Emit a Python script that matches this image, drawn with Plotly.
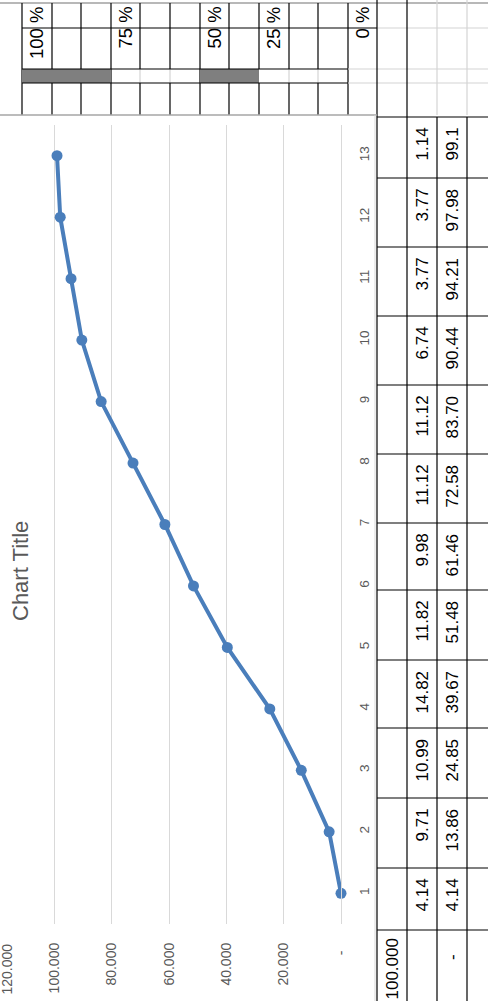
import plotly.graph_objects as go

# chart data (read from the rotated sheet)
categories = list(range(1, 14))
cumulative = [0, 4.14, 13.86, 24.85, 39.67, 51.48, 61.46, 72.58, 83.70, 90.44, 94.21, 97.98, 99.1]
each_text = ["4.14", "9.71", "10.99", "14.82", "11.82", "9.98", "11.12", "11.12", "6.74", "3.77", "3.77", "1.14"]
cum_text = ["4.14", "13.86", "24.85", "39.67", "51.48", "61.46", "72.58", "83.70", "90.44", "94.21", "97.98", "99.1"]
value_ticks = [0, 20, 40, 60, 80, 100]
value_ticktext = ["-\u00a0\u00a0", "20.000", "40.000", "60.000", "80.000", "100.000"]
pct_labels = ["100 %", "75 %", "50 %", "25 %", "0 %"]

W, H = 488, 1001
PLOT_W = 341
PLOT_TOP, PLOT_BOTTOM = 125, 924
PLOT_H = PLOT_BOTTOM - PLOT_TOP
BLUE = "#4A7EBB"
GREY_TXT = "#595959"
FONT = "Liberation Sans, Arial, sans-serif"


def px(x):
    return x / PLOT_W


def py(y):
    return (PLOT_BOTTOM - y) / PLOT_H


shapes = []
annotations = []


def hline(y, x0, x1, color="black", width=1.2):
    shapes.append(dict(type="line", xref="paper", yref="paper", x0=px(x0), x1=px(x1),
                       y0=py(y), y1=py(y), line=dict(color=color, width=width)))


def vline(x, y0, y1, color="black", width=1.2):
    shapes.append(dict(type="line", xref="paper", yref="paper", x0=px(x), x1=px(x),
                       y0=py(y0), y1=py(y1), line=dict(color=color, width=width)))


def label(x, y, text, size, color="black", yanchor="top"):
    annotations.append(dict(xref="paper", yref="paper", x=px(x), y=py(y), text=text,
                            textangle=-90, showarrow=False, xanchor="center", yanchor=yanchor,
                            borderpad=0, font=dict(family=FONT, size=size, color=color)))


LIGHT = "#D4D4D4"

# --- sheet cells above the chart ---
top_cols = [22, 52, 81, 111, 140, 170, 200, 229, 259, 289, 318, 348]
hline(3, 0, W, "#A0A0A0", 1.5)
for c in top_cols:
    vline(c, 3, 69)
    vline(c, 83, 115)
for c in [140, 170, 289, 318]:
    vline(c, 69, 83, LIGHT)
for c in [22, 111, 200, 348]:
    vline(c, 69, 83)
shapes.append(dict(type="rect", xref="paper", yref="paper", x0=px(22), x1=px(111),
                   y0=py(83), y1=py(69), fillcolor="#7F7F7F", line=dict(width=0)))
shapes.append(dict(type="rect", xref="paper", yref="paper", x0=px(200), x1=px(259),
                   y0=py(83), y1=py(69), fillcolor="#7F7F7F", line=dict(width=0)))
hline(28, 22, 377)
hline(28, 377, W, LIGHT)
for r in [69, 83]:
    hline(r, 22, 348)
    hline(r, 348, W, LIGHT)
vline(377, 0, H)
vline(407, 0, H)
for c in [437, 467]:
    vline(c, 0, 115, LIGHT)
    vline(c, 117, H)
for x, t in zip([37, 125.5, 214.5, 274, 362.5], pct_labels):
    label(x, 6, t, 18.5)

# --- chart border ---
hline(115, 0, 377, "#A6A6A6", 1.5)
vline(375, 115, H, "#D9D9D9", 1)

# --- table at the right ---
row_tops = [930, 868, 798, 728, 660, 590, 523, 454, 385, 316, 247, 178, 117]
for r in row_tops:
    hline(r, 377, W)
label(392, 938, "100.000", 17)
label(452, 953, "-", 17)
for i in range(len(each_text)):
    top = row_tops[i + 1]
    label(422, top + 10, each_text[i], 17)
    label(452, top + 10, cum_text[i], 17)

# chart title and the cut 120 tick
label(20, 520, "Chart Title", 22, GREY_TXT)
label(6, 943, "120.000", 14, GREY_TXT)

fig = go.Figure()
fig.add_trace(go.Scatter(
    x=cumulative, y=categories, mode="lines+markers",
    line=dict(color=BLUE, width=4), marker=dict(size=11, color=BLUE),
    cliponaxis=False, showlegend=False, hoverinfo="skip",
))

fig.update_layout(
    width=W, height=H,
    margin=dict(l=0, r=W - PLOT_W, t=PLOT_TOP, b=H - PLOT_BOTTOM, pad=0),
    paper_bgcolor="white", plot_bgcolor="white",
    shapes=shapes, annotations=annotations,
    xaxis=dict(range=[119, 0], tickvals=value_ticks, ticktext=value_ticktext,
               tickangle=-90, showgrid=True, gridcolor="#D9D9D9", gridwidth=1,
               zeroline=False, showline=False, ticks="", ticklabelstandoff=15,
               automargin=False,
               tickfont=dict(family=FONT, size=14, color=GREY_TXT)),
    yaxis=dict(range=[0.5, 13.5], tickvals=categories, side="right", tickangle=-90,
               showgrid=False, zeroline=False, showline=True, linecolor="#D9D9D9",
               linewidth=1, ticks="", ticklabelstandoff=11, automargin=False,
               tickfont=dict(family=FONT, size=13.5, color=GREY_TXT)),
)

fig.write_html("out.html", config={"displayModeBar": False},
               post_script="document.body.style.margin='0';")
